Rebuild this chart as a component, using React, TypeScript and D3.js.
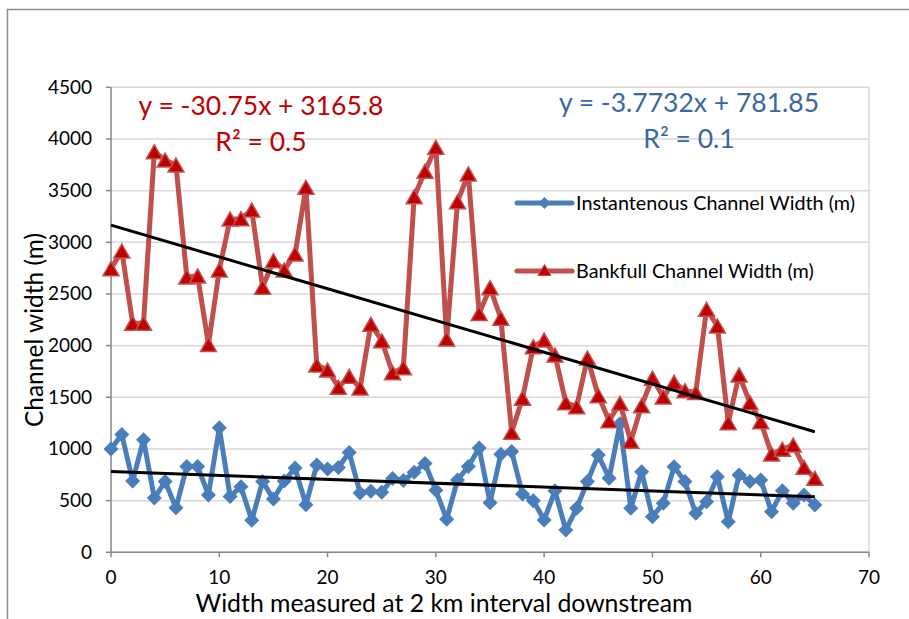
import * as d3 from "d3";

const positions = [
  0, 1, 2, 3, 4, 5, 6, 7, 8, 9, 10, 11, 12, 13, 14, 15, 16, 17, 18, 19, 20, 21,
  22, 23, 24, 25, 26, 27, 28, 29, 30, 31, 32, 33, 34, 35, 36, 37, 38, 39, 40, 41,
  42, 43, 44, 45, 46, 47, 48, 49, 50, 51, 52, 53, 54, 55, 56, 57, 58, 59, 60, 61,
  62, 63, 64, 65,
];

const instantWidth = [
  1000, 1140, 690, 1090, 525, 685, 430, 830, 830, 555, 1205, 540, 635, 310, 685,
  515, 690, 815, 460, 845, 805, 820, 965, 575, 590, 580, 715, 695, 775, 860, 600,
  320, 700, 830, 1010, 480, 950, 975, 565, 500, 313, 595, 216, 426, 684, 942, 716,
  1245, 426, 780, 345, 474, 829, 684, 377, 490, 732, 296, 748, 684, 700, 393, 596,
  474, 554, 458,
];

const bankfullWidth = [
  2745, 2915, 2216, 2216, 3877, 3796, 3748, 2665, 2674, 2010, 2732, 3225, 3228,
  3312, 2565, 2822, 2732, 2887, 3532, 1812, 1764, 1597, 1703, 1590, 2206, 2048,
  1738, 1786, 3441, 3687, 3919, 2064, 3393, 3661, 2310, 2561, 2265, 1161, 1490,
  1990, 2054, 1909, 1448, 1409, 1880, 1515, 1274, 1442, 1075, 1418, 1685, 1503,
  1645, 1564, 1546, 2352, 2190, 1254, 1716, 1448, 1264, 951, 997, 1038, 823, 716,
];

const xTicks = [0, 10, 20, 30, 40, 50, 60, 70];
const yTicks = [0, 500, 1000, 1500, 2000, 2500, 3000, 3500, 4000, 4500];

const seriesNames = ["Instantenous Channel Width (m)", "Bankfull Channel Width (m)"];
const trendSlopes = [-3.7732, -30.75];
const trendIntercepts = [781.85, 3165.8];
const trendLabels = ["y = -3.7732x + 781.85", "y = -30.75x + 3165.8"];
const r2Labels = ["R\u00b2 = 0.1", "R\u00b2 = 0.5"];

const W = 909;
const H = 619;
const FONT = "Lato, 'Open Sans', sans-serif";

const BLUE = "#4a7ebb";
const RED_LINE = "#c0504d";
const RED_MARK = "#c00000";

const x = d3.scaleLinear().domain([0, 70]).range([111, 869]);
const y = d3.scaleLinear().domain([0, 4500]).range([552.3, 87.3]);

type Pt = [number, number];

const blueData: Pt[] = positions.map((p, i) => [p, instantWidth[i]]);
const redData: Pt[] = positions.map((p, i) => [p, bankfullWidth[i]]);

const line = d3
  .line<Pt>()
  .x((d) => x(d[0]))
  .y((d) => y(d[1]))
  .curve(d3.curveLinear);

const diamond = (cx: number, cy: number, r = 7.5) =>
  `M${cx},${cy - r}L${cx + r},${cy}L${cx},${cy + r}L${cx - r},${cy}Z`;
const triangle = (cx: number, cy: number, w = 16, h = 14) =>
  `M${cx},${cy - h / 2}L${cx + w / 2},${cy + h / 2}L${cx - w / 2},${cy + h / 2}Z`;

function trend(k: number) {
  const x0 = positions[0];
  const x1 = positions[positions.length - 1];
  return {
    x1: x(x0),
    y1: y(trendIntercepts[k] + trendSlopes[k] * x0),
    x2: x(x1),
    y2: y(trendIntercepts[k] + trendSlopes[k] * x1),
  };
}

export default function App() {
  const [xl, xr] = x.range();
  const [yb, yt] = y.range();
  const tb = trend(0);
  const tr = trend(1);

  return (
    <svg
      width={W}
      height={H}
      style={{ position: "fixed", left: 0, top: 0, background: "#fff" }}
      fontFamily={FONT}
    >
      {/* chart frame */}
      <path d={`M7.5,${H}V9.5H${W}`} fill="none" stroke="#8c8c8c" strokeWidth={1.5} />

      {/* grid */}
      {yTicks.map((t) => (
        <line key={t} x1={xl} x2={xr} y1={y(t)} y2={y(t)} stroke="#d9d9d9" strokeWidth={1.5} />
      ))}
      <line x1={xr} x2={xr} y1={yt} y2={yb} stroke="#d9d9d9" strokeWidth={1.5} />

      {/* axes */}
      <line x1={xl} x2={xl} y1={yt} y2={yb} stroke="#868686" strokeWidth={1.5} />
      <line x1={xl} x2={xr} y1={yb} y2={yb} stroke="#868686" strokeWidth={1.5} />
      {yTicks.map((t) => (
        <g key={t}>
          <line x1={xl - 5} x2={xl} y1={y(t)} y2={y(t)} stroke="#868686" strokeWidth={1.5} />
          <text x={92} y={y(t) + 6.5} textAnchor="end" fontSize={19} fill="#000">
            {t}
          </text>
        </g>
      ))}
      {xTicks.map((t) => (
        <g key={t}>
          <line x1={x(t)} x2={x(t)} y1={yb} y2={yb + 5} stroke="#868686" strokeWidth={1.5} />
          <text x={x(t)} y={584} textAnchor="middle" fontSize={19} fill="#000">
            {t}
          </text>
        </g>
      ))}

      {/* axis titles */}
      <text x={444} y={612} textAnchor="middle" fontSize={24.8} fill="#000">
        Width measured at 2 km interval downstream
      </text>
      <text
        transform="translate(43,330) rotate(-90)"
        textAnchor="middle"
        fontSize={24.5}
        fill="#000"
      >
        Channel width (m)
      </text>

      {/* series */}
      <path d={line(blueData) ?? ""} fill="none" stroke={BLUE} strokeWidth={5} strokeLinejoin="round" />
      {blueData.map((d, i) => (
        <path key={i} d={diamond(x(d[0]), y(d[1]))} fill={BLUE} />
      ))}
      <path d={line(redData) ?? ""} fill="none" stroke={RED_LINE} strokeWidth={5} strokeLinejoin="round" />
      {redData.map((d, i) => (
        <path
          key={i}
          d={triangle(x(d[0]), y(d[1]))}
          fill={RED_MARK}
          stroke={RED_LINE}
          strokeWidth={1.5}
        />
      ))}

      {/* trendlines */}
      <line {...tb} stroke="#000" strokeWidth={3} />
      <line {...tr} stroke="#000" strokeWidth={3} />

      {/* trendline labels */}
      <text x={261} y={115} textAnchor="middle" fontSize={26.5} fill={RED_MARK}>
        {trendLabels[1]}
      </text>
      <text x={261} y={151} textAnchor="middle" fontSize={26.5} fill={RED_MARK}>
        {r2Labels[1]}
      </text>
      <text x={689} y={112} textAnchor="middle" fontSize={26.5} fill="#3a679f">
        {trendLabels[0]}
      </text>
      <text x={689} y={148} textAnchor="middle" fontSize={26.5} fill="#3a679f">
        {r2Labels[0]}
      </text>

      {/* legend */}
      <g>
        <line x1={517} x2={572} y1={203} y2={203} stroke={BLUE} strokeWidth={5} strokeLinecap="round" />
        <path d={diamond(544.5, 203, 6)} fill={BLUE} />
        <text x={576} y={210} fontSize={19.8} fill="#000">
          {seriesNames[0]}
        </text>
        <line x1={517} x2={572} y1={271} y2={271} stroke={RED_LINE} strokeWidth={5} strokeLinecap="round" />
        <path d={triangle(544.5, 270, 13, 11)} fill={RED_MARK} stroke={RED_LINE} strokeWidth={1} />
        <text x={576} y={278} fontSize={19.8} fill="#000">
          {seriesNames[1]}
        </text>
      </g>
    </svg>
  );
}
